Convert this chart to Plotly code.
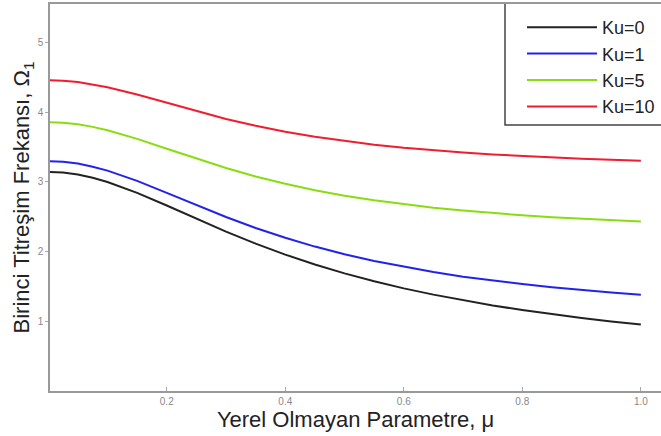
import plotly.graph_objects as go

mu = [0.0, 0.025, 0.05, 0.075, 0.1, 0.15, 0.2, 0.25, 0.3, 0.35, 0.4, 0.45, 0.5,
      0.55, 0.6, 0.65, 0.7, 0.75, 0.8, 0.85, 0.9, 0.95, 1.0]
ku0 = [3.142, 3.132, 3.104, 3.058, 2.997, 2.842, 2.660, 2.471, 2.286, 2.114, 1.956, 1.814, 1.687,
       1.574, 1.472, 1.382, 1.300, 1.227, 1.161, 1.102, 1.047, 0.998, 0.953]
ku1 = [3.297, 3.288, 3.261, 3.217, 3.160, 3.013, 2.842, 2.665, 2.495, 2.338, 2.197, 2.071, 1.961,
       1.864, 1.780, 1.706, 1.640, 1.583, 1.533, 1.488, 1.448, 1.413, 1.381]
ku5 = [3.856, 3.848, 3.825, 3.788, 3.739, 3.616, 3.475, 3.332, 3.198, 3.077, 2.971, 2.879, 2.801,
       2.734, 2.677, 2.628, 2.587, 2.551, 2.520, 2.493, 2.469, 2.449, 2.431]
ku10 = [4.458, 4.451, 4.431, 4.399, 4.357, 4.252, 4.132, 4.013, 3.902, 3.804, 3.718, 3.646, 3.584,
        3.532, 3.488, 3.451, 3.419, 3.392, 3.369, 3.349, 3.331, 3.316, 3.303]

names = ["Ku=0", "Ku=1", "Ku=5", "Ku=10"]
series = [ku0, ku1, ku5, ku10]
colors = ["#222222", "#2222ee", "#88dd11", "#f01c30"]

x_ticks = [0.2, 0.4, 0.6, 0.8, 1.0]
y_ticks = [1, 2, 3, 4, 5]

fig = go.Figure()
for n, s, c in zip(names, series, colors):
    fig.add_trace(go.Scatter(x=mu, y=s, mode="lines", name=n,
                             line=dict(color=c, width=2, shape="linear")))

font_family = "Liberation Sans, Arial, sans-serif"
fig.update_layout(
    width=661, height=436,
    margin=dict(l=50, r=0, t=4, b=45),
    paper_bgcolor="white", plot_bgcolor="white",
    font=dict(family=font_family, color="#333333"),
    showlegend=True,
    legend=dict(x=(522 - 50) / 611, y=(391 - 9) / 387, xanchor="left", yanchor="top",
                bgcolor="rgba(0,0,0,0)", borderwidth=0, itemwidth=70,
                font=dict(size=18, color="#222222", family=font_family),
                tracegroupgap=0),
    shapes=[dict(type="rect", xref="paper", yref="paper",
                 x0=(505 - 50) / 611, x1=1.05, y0=(391 - 125) / 387, y1=(391 - 3) / 387,
                 line=dict(color="#444444", width=1.5), fillcolor="white", layer="below")],
    xaxis=dict(range=[0.003, 1.034], tickvals=x_ticks, tickformat=".1f",
               showgrid=False, zeroline=False,
               showline=True, linecolor="#999999", linewidth=1.5, mirror=True,
               ticks="inside", ticklen=4, tickcolor="#aaaaaa",
               tickfont=dict(size=10, color="#888888"),
               title=dict(text="Yerel Olmayan Parametre, μ",
                          font=dict(size=22, color="#222222"), standoff=4)),
    yaxis=dict(range=[0, 5.55], tickvals=y_ticks,
               showgrid=False, zeroline=False,
               showline=True, linecolor="#999999", linewidth=1.5,
               ticks="outside", ticklen=3, tickcolor="#aaaaaa",
               tickfont=dict(size=10, color="#888888"),
               title=dict(text="Birinci Titreşim Frekansı, Ω<sub>1</sub>",
                          font=dict(size=22, color="#222222"), standoff=2)),
)

fig.write_html("out.html")
